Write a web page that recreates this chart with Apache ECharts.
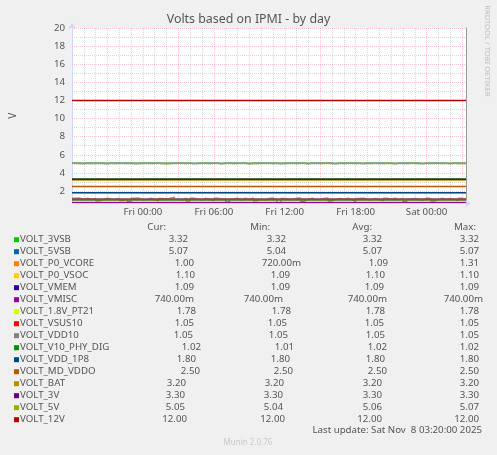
<!DOCTYPE html>
<html lang="en">
<head>
    <meta charset="UTF-8">
    <title>Volts based on IPMI - by day</title>
    <script src="https://cdn.jsdelivr.net/npm/echarts@6.0.0/dist/echarts.min.js"></script>
    <style>
        html, body { margin: 0; padding: 0; background: #F0F0F0; }
        #box { width: 497px; height: 455px; }
    </style>
</head>
<body>
<div id="box"></div>
<script>
    // hours since Thu 00:00
    var tStart = 18, tEnd = 51 + 1 / 3, tStep = 1 / 3;

    var names = ['VOLT_3VSB', 'VOLT_5VSB', 'VOLT_P0_VCORE', 'VOLT_P0_VSOC', 'VOLT_VMEM', 'VOLT_VMISC',
        'VOLT_1.8V_PT21', 'VOLT_VSUS10', 'VOLT_VDD10', 'VOLT_V10_PHY_DIG', 'VOLT_VDD_1P8', 'VOLT_MD_VDDO',
        'VOLT_BAT', 'VOLT_3V', 'VOLT_5V', 'VOLT_12V'];
    var colors = ['#00CC00', '#0066B3', '#FF8000', '#FFCC00', '#330099', '#990099', '#CCFF00', '#FF0000',
        '#808080', '#008F00', '#00487D', '#B35A00', '#B38F00', '#6B006B', '#8FB300', '#B30000'];

    // flat lines (null = sampled series below)
    var flatLevels = [3.32, null, null, 1.10, 1.09, 0.74, 1.78, 1.05, 1.05, 1.02, 1.80, 2.50, 3.20, 3.30, null, 12.00];

    // 20 minute samples
    var v5vsb = [
        5.07,5.07,5.04,5.07,5.07,5.07,5.07,5.07,5.04,5.07,
        5.07,5.07,5.07,5.07,5.07,5.04,5.07,5.07,5.07,5.07,
        5.07,5.07,5.07,5.04,5.07,5.07,5.07,5.07,5.07,5.07,
        5.04,5.07,5.07,5.07,5.07,5.07,5.07,5.04,5.07,5.07,
        5.07,5.07,5.07,5.07,5.04,5.07,5.07,5.07,5.07,5.07,
        5.07,5.07,5.04,5.07,5.07,5.07,5.07,5.07,5.07,5.04,
        5.07,5.07,5.07,5.07,5.07,5.07,5.04,5.07,5.07,5.07,
        5.07,5.07,5.07,5.04,5.07,5.07,5.07,5.07,5.07,5.07,
        5.07,5.04,5.07,5.07,5.07,5.07,5.07,5.07,5.04,5.07,
        5.07,5.07,5.07,5.07,5.07,5.04,5.07,5.07,5.07,5.07,
        5.07];
    var vcore = [
        1.20,1.22,1.08,1.21,1.05,1.19,0.92,1.06,1.20,1.10,
        1.05,1.21,0.95,1.09,0.85,1.20,1.22,1.02,1.08,1.20,
        1.06,0.90,1.19,1.10,1.21,1.31,1.07,1.00,1.21,0.88,
        1.20,1.09,1.03,1.22,1.06,0.95,1.21,1.08,1.16,0.80,
        1.10,1.22,1.01,1.20,1.07,1.23,0.93,1.09,1.00,1.19,
        1.22,1.08,0.72,1.18,1.06,1.05,1.20,1.22,0.87,1.09,
        1.21,1.02,1.07,1.18,1.22,0.90,1.08,1.19,1.04,1.21,
        1.06,0.84,1.19,1.20,1.09,1.01,1.18,1.07,0.91,1.21,
        1.08,1.22,1.03,1.20,0.86,1.10,1.18,1.06,1.00,1.22,
        1.19,0.89,1.08,1.20,1.05,1.18,1.07,0.94,1.20,1.09,
        1.00];
    var v5v = [
        5.07,5.04,5.06,5.07,5.04,5.05,5.07,5.04,5.06,5.07,
        5.04,5.07,5.05,5.04,5.07,5.06,5.04,5.07,5.05,5.04,
        5.07,5.06,5.04,5.07,5.04,5.05,5.07,5.06,5.04,5.07,
        5.05,5.04,5.07,5.06,5.04,5.07,5.05,5.04,5.06,5.07,
        5.04,5.07,5.05,5.06,5.04,5.07,5.04,5.06,5.07,5.05,
        5.04,5.07,5.06,5.04,5.07,5.05,5.04,5.07,5.06,5.04,
        5.07,5.05,5.04,5.06,5.07,5.04,5.05,5.07,5.04,5.06,
        5.07,5.04,5.05,5.07,5.06,5.04,5.07,5.05,5.04,5.07,
        5.06,5.04,5.07,5.05,5.04,5.06,5.07,5.04,5.05,5.07,
        5.04,5.06,5.07,5.04,5.05,5.07,5.06,5.04,5.07,5.04,
        5.05];
    var sampled = { 1: v5vsb, 2: vcore, 14: v5v };

    var curText = ['3.32', '5.07', '1.00', '1.10', '1.09', '740.00m', '1.78', '1.05', '1.05', '1.02', '1.80', '2.50', '3.20', '3.30', '5.05', '12.00'];
    var minText = ['3.32', '5.04', '720.00m', '1.09', '1.09', '740.00m', '1.78', '1.05', '1.05', '1.01', '1.80', '2.50', '3.20', '3.30', '5.04', '12.00'];
    var avgText = ['3.32', '5.07', '1.09', '1.10', '1.09', '740.00m', '1.78', '1.05', '1.05', '1.02', '1.80', '2.50', '3.20', '3.30', '5.06', '12.00'];
    var maxText = ['3.32', '5.07', '1.31', '1.10', '1.09', '740.00m', '1.78', '1.05', '1.05', '1.02', '1.80', '2.50', '3.20', '3.30', '5.07', '12.00'];

    var dayNames = ['Thu', 'Fri', 'Sat'];

    // legend layout (right edges of the value columns, rrdtool spacing)
    var curRight = [188, 188, 194, 195, 194, 194, 196, 194, 193, 201, 196, 200, 186, 185, 185, 187];
    var minRight = [286, 286, 301, 290, 290, 283, 291, 287, 288, 294, 290, 293, 284, 283, 283, 285];
    var avgRight = [382, 382, 388, 385, 384, 387, 385, 384, 385, 387, 385, 387, 382, 382, 382, 382];
    var maxRight = [479, 479, 479, 479, 479, 483, 479, 479, 479, 479, 479, 479, 479, 479, 479, 479];

    var FONT = '"Noto Sans", sans-serif';
    var TXT = '#555555';

    function seriesData(i) {
        if (flatLevels[i] !== null) {
            return [[tStart, flatLevels[i]], [tEnd, flatLevels[i]]];
        }
        return sampled[i].map(function (v, k) { return [tStart + k * tStep, v]; });
    }

    var series = names.map(function (n, i) {
        return {
            name: n,
            type: 'line',
            data: seriesData(i),
            step: flatLevels[i] === null ? 'end' : false,
            showSymbol: false,
            symbol: 'none',
            lineStyle: { color: colors[i], width: 1.4 },
            itemStyle: { color: colors[i] },
            silent: true
        };
    });

    function txt(text, x, y, align, size, color) {
        return {
            type: 'text', x: x, y: y, silent: true,
            style: {
                text: text, fill: color || TXT, align: align || 'left', verticalAlign: 'middle',
                font: (size || 9.7) + 'px ' + FONT
            }
        };
    }

    var graphics = [];
    graphics.push(txt('Cur:', 166, 227.5, 'right'));
    graphics.push(txt('Min:', 270, 227.5, 'right'));
    graphics.push(txt('Avg:', 372, 227.5, 'right'));
    graphics.push(txt('Max:', 476, 227.5, 'right'));
    names.forEach(function (n, i) {
        var y = 239.7 + 12 * i;
        graphics.push({
            type: 'rect', silent: true,
            shape: { x: 14, y: y - 2.5, width: 5, height: 5 },
            style: { fill: colors[i] }
        });
        graphics.push(txt(n, 20, y, 'left'));
        graphics.push(txt(curText[i], curRight[i], y, 'right'));
        graphics.push(txt(minText[i], minRight[i], y, 'right'));
        graphics.push(txt(avgText[i], avgRight[i], y, 'right'));
        graphics.push(txt(maxText[i], maxRight[i], y, 'right'));
    });
    graphics.push(txt('Last update: Sat Nov  8 03:20:00 2025', 482, 430.5, 'right'));
    graphics.push(txt('Munin 2.0.76', 248, 443, 'center', 8, '#C8C8C8'));
    graphics.push({
        type: 'text', x: 487, y: 51, rotation: -Math.PI / 2, silent: true,
        style: {
            text: 'RRDTOOL / TOBI OETIKER', fill: '#C0C0C0', align: 'center', verticalAlign: 'middle',
            font: '7.6px ' + FONT
        }
    });

    var mychart = echarts.init(document.getElementById('box'));
    var option = {
        backgroundColor: '#F0F0F0',
        animation: false,
        title: {
            text: 'Volts based on IPMI - by day',
            left: 'center',
            top: 13,
            padding: 0,
            textStyle: { color: TXT, fontSize: 12.4, fontWeight: 'normal', fontFamily: FONT }
        },
        grid: { left: 66, right: 31, top: 28, bottom: 251.5, backgroundColor: '#FFFFFF', show: true, borderWidth: 0 },
        xAxis: {
            type: 'value',
            min: tStart,
            max: tEnd,
            interval: 3,
            axisLine: {
                lineStyle: { color: '#CFD6F8' },
                symbol: ['none', 'arrow'], symbolSize: [6, 6], symbolOffset: [0, 5]
            },
            axisTick: { show: false },
            axisLabel: {
                interval: 0, margin: 4, color: TXT, fontSize: 9.7, fontFamily: FONT,
                showMinLabel: false, showMaxLabel: false,
                formatter: function (v) {
                    if (Math.abs(v - Math.round(v)) > 1e-6) return '';
                    if (v % 6 !== 0 || v <= tStart) return '';
                    var d = Math.floor(v / 24), h = v % 24;
                    return dayNames[d] + ' ' + (h < 10 ? '0' : '') + h + ':00';
                }
            },
            splitLine: { show: true, lineStyle: { color: 'rgba(235,130,130,0.42)', type: [1, 1], width: 1 } },
            minorTick: { show: true, splitNumber: 3, length: 0 },
            minorSplitLine: { show: true, lineStyle: { color: 'rgba(150,150,150,0.38)', type: [1, 1], width: 1 } }
        },
        yAxis: [{
            type: 'value',
            min: 0.62,
            max: 20,
            splitNumber: 10,
            name: 'V',
            nameLocation: 'middle',
            nameGap: 54,
            nameRotate: 90,
            nameTextStyle: { color: TXT, fontSize: 10, fontFamily: FONT },
            axisLine: {
                show: true,
                lineStyle: { color: '#CFD6F8' },
                symbol: ['none', 'arrow'], symbolSize: [6, 6], symbolOffset: [0, 5]
            },
            axisTick: { show: false },
            axisLabel: {
                margin: 7, color: TXT, fontSize: 9.7, fontFamily: FONT,
                showMinLabel: false
            },
            splitLine: { show: true, lineStyle: { color: 'rgba(235,130,130,0.42)', type: [1, 1], width: 1 } },
            minorTick: { show: true, splitNumber: 2, length: 0 },
            minorSplitLine: { show: true, lineStyle: { color: 'rgba(150,150,150,0.38)', type: [1, 1], width: 1 } }
        }, {
            type: 'value',
            position: 'right',
            min: 0.62,
            max: 20,
            axisLine: { show: true, lineStyle: { color: '#999999' } },
            axisTick: { show: false },
            axisLabel: { show: false },
            splitLine: { show: false }
        }],
        graphic: graphics,
        series: series
    };
    mychart.setOption(option);
</script>
</body>
</html>
